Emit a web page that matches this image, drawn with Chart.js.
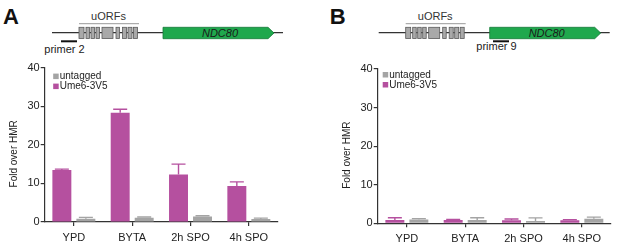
<!DOCTYPE html>
<html lang="en">
<head>
    <meta charset="UTF-8">
    <title>Ume6 ChIP at NDC80</title>
    <script src="https://cdn.jsdelivr.net/npm/chart.js"></script>
    <style>
        html, body {
            margin: 0;
            background: #fff;
        }
        #page {
            position: relative;
            width: 617px;
            height: 247px;
            overflow: hidden;
            font-family: "Liberation Sans", Arial, sans-serif;
        }
        #diagram {
            position: absolute;
            left: 0;
            top: 0;
        }
        .panel {
            position: absolute;
            top: 60px;
            width: 284px;
            height: 187px;
        }
    </style>
</head>
<body>
<div id="page">
    <svg id="diagram" width="617" height="60" xmlns="http://www.w3.org/2000/svg"></svg>
    <div class="panel" style="left:0px"><canvas id="chartA"></canvas></div>
    <div class="panel" style="left:333px"><canvas id="chartB"></canvas></div>
</div>

<script>
    // conditions on the x axis
    const categories = ['YPD', 'BYTA', '2h SPO', '4h SPO'];
    const yTicks = [0, 10, 20, 30, 40];
    const seriesNames = ['Ume6-3V5', 'untagged'];

    // panel A - primer 2 (uORF region)
    const aUme6 = [13.5, 28.3, 12.3, 9.3];
    const aUme6Err = [0.2, 0.9, 2.7, 1.1];
    const aUntagged = [0.85, 1.1, 1.45, 0.8];
    const aUntaggedErr = [0.35, 0.2, 0.15, 0.2];

    // panel B - primer 9 (NDC80 ORF)
    const bUme6 = [0.85, 0.85, 0.8, 0.8];
    const bUme6Err = [0.6, 0.15, 0.3, 0.15];
    const bUntagged = [1.0, 0.85, 0.6, 1.2];
    const bUntaggedErr = [0.2, 0.6, 0.8, 0.4];

    const magenta = '#b5509f';
    const grey = '#a4a4a4';
    const FONT = '"Liberation Sans", Arial, sans-serif';

    // --- gene diagrams (drawn as svg) ---
    const svg = document.getElementById('diagram');
    const NS = 'http://www.w3.org/2000/svg';

    function el(name, attrs, text) {
        const e = document.createElementNS(NS, name);
        for (const k in attrs) e.setAttribute(k, attrs[k]);
        if (text) e.textContent = text;
        svg.appendChild(e);
        return e;
    }

    const uorfBoxes = [[79, 84], [86, 89.5], [91, 94.5], [96, 99.5], [102, 113], [116, 119.5], [122.5, 126.5], [128, 132], [133.5, 137.5]];

    function drawGene(dx, letter, primerName, primerX, primerTextY) {
        el('text', {x: dx + 3, y: 24, 'font-size': 22, 'font-weight': 'bold', 'font-family': FONT, fill: '#111'}, letter);
        el('line', {x1: dx + 52, y1: 32.7, x2: dx + 283, y2: 32.7, stroke: '#333', 'stroke-width': 1.2});
        uorfBoxes.forEach(b => {
            el('rect', {x: dx + b[0], y: 27.3, width: b[1] - b[0], height: 11.2, fill: '#a9a9a9', stroke: '#5a5a5a', 'stroke-width': 0.8});
        });
        el('line', {x1: dx + 79, y1: 23.7, x2: dx + 139, y2: 23.7, stroke: '#999', 'stroke-width': 1});
        el('text', {x: dx + 108.5, y: 20, 'font-size': 11, 'font-family': FONT, fill: '#333', 'text-anchor': 'middle'}, 'uORFs');
        el('path', {d: `M${dx + 163} 27.3 L${dx + 268} 27.3 L${dx + 274} 33 L${dx + 268} 38.7 L${dx + 163} 38.7 Z`,
            fill: '#1fa84d', stroke: '#177a39', 'stroke-width': 0.8});
        el('text', {x: dx + 220, y: 37, 'font-size': 11, 'font-style': 'italic', 'font-family': FONT, fill: '#1a1a1a', 'text-anchor': 'middle'}, 'NDC80');
        el('line', {x1: primerX, y1: 41.3, x2: primerX + 16, y2: 41.3, stroke: '#111', 'stroke-width': 2});
        el('text', {x: primerX + 3.5, y: primerTextY, 'font-size': 11, 'font-family': FONT, fill: '#222', 'text-anchor': 'middle'}, primerName);
    }

    drawGene(0, 'A', 'primer 2', 61, 53);
    drawGene(326.7, 'B', 'primer 9', 493, 50);

    // --- error bars (upward only) ---
    const errorBars = {
        id: 'errorBars',
        afterDatasetsDraw(chart) {
            const ctx = chart.ctx;
            const y = chart.scales.y;
            chart.data.datasets.forEach((ds, i) => {
                const meta = chart.getDatasetMeta(i);
                meta.data.forEach((bar, j) => {
                    const top = y.getPixelForValue(ds.data[j] + ds.errors[j]);
                    ctx.save();
                    ctx.strokeStyle = ds.backgroundColor;
                    ctx.lineWidth = 1.4;
                    ctx.beginPath();
                    ctx.moveTo(bar.x, bar.y);
                    ctx.lineTo(bar.x, top);
                    ctx.moveTo(bar.x - 7, top);
                    ctx.lineTo(bar.x + 7, top);
                    ctx.stroke();
                    ctx.restore();
                });
            });
        }
    };

    // --- legend inside the plot + rotated axis title ---
    const extras = {
        id: 'extras',
        afterDraw(chart, args, opts) {
            const ctx = chart.ctx;
            const area = chart.chartArea;
            ctx.save();
            ctx.font = '10px ' + FONT;
            ctx.textBaseline = 'middle';
            ctx.fillStyle = '#222';
            const items = chart.data.datasets.slice().reverse();
            items.forEach((ds, k) => {
                const cy = area.top + opts.legendY + k * 10;
                ctx.fillStyle = ds.backgroundColor;
                ctx.fillRect(area.left + opts.legendX, cy - 2.5, 5.5, 5.5);
                ctx.fillStyle = '#222';
                ctx.fillText(ds.label, area.left + opts.legendX + 6.5, cy + 0.5);
            });
            // y axis title
            ctx.translate(area.left - 30, (area.top + area.bottom) / 2 + 9);
            ctx.rotate(-Math.PI / 2);
            ctx.textAlign = 'center';
            ctx.fillStyle = '#222';
            ctx.fillText('Fold over HMR', 0, 0);
            ctx.restore();
        }
    };

    function makeChart(id, ume6, ume6Err, untagged, untaggedErr, padTop, xHeight, legendX, legendY) {
        return new Chart(document.getElementById(id), {
            type: 'bar',
            data: {
                labels: categories,
                datasets: [
                    {label: seriesNames[0], data: ume6, errors: ume6Err, backgroundColor: magenta,
                        barPercentage: 0.79, categoryPercentage: 0.823},
                    {label: seriesNames[1], data: untagged, errors: untaggedErr, backgroundColor: grey,
                        barPercentage: 0.79, categoryPercentage: 0.823}
                ]
            },
            options: {
                responsive: true,
                maintainAspectRatio: false,
                animation: false,
                layout: {padding: {top: padTop, right: 6, left: 0, bottom: 0}},
                plugins: {
                    legend: {display: false},
                    tooltip: {enabled: false},
                    extras: {legendX: legendX, legendY: legendY}
                },
                scales: {
                    x: {
                        grid: {display: true, drawOnChartArea: false, drawTicks: true, tickLength: 4, offset: false, color: '#333', lineWidth: 1.2},
                        border: {color: '#333', width: 1.2},
                        ticks: {color: '#222', font: {family: FONT, size: 11}, padding: 5, maxRotation: 0},
                        afterFit(scale) { scale.height = xHeight; }
                    },
                    y: {
                        min: 0,
                        max: 40,
                        afterBuildTicks(scale) { scale.ticks = yTicks.map(v => ({value: v})); },
                        grid: {display: true, drawOnChartArea: false, drawTicks: true, tickLength: 4, color: '#333', lineWidth: 1.2},
                        border: {color: '#333', width: 1.2},
                        ticks: {color: '#222', font: {family: FONT, size: 11}, padding: 1},
                        afterFit(scale) { scale.width = 44.7; }
                    }
                }
            },
            plugins: [errorBars, extras]
        });
    }

    makeChart('chartA', aUme6, aUme6Err, aUntagged, aUntaggedErr, 7, 25, 8.5, 8.5);
    makeChart('chartB', bUme6, bUme6Err, bUntagged, bUntaggedErr, 9, 23.7, 5, 5.5);
</script>
</body>
</html>
